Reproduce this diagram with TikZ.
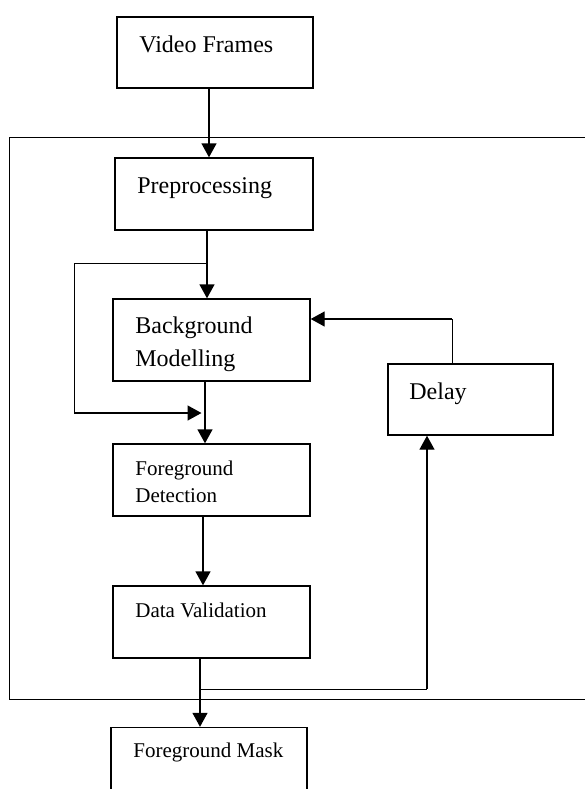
\documentclass[tikz,border=0pt]{standalone}
\usepackage{fontspec}
\setmainfont{Liberation Serif}
\usetikzlibrary{positioning, arrows.meta, calc}

\begin{document}
\begin{tikzpicture}[x=0.5pt, y=-0.5pt,
    block/.style={draw, line width=0.7pt, inner sep=0pt},
    txt/.style={inner sep=0pt, anchor=north west, align=left, font=\fontsize{12}{16.5}\selectfont},
    small/.style={font=\fontsize{10.5}{13.5}\selectfont},
    flow/.style={-{Triangle[length=7pt, width=7.5pt]}, line width=0.7pt},
    wire/.style={line width=0.4pt}]
      \clip (0,0) rectangle (585,789);

      % outer frame, open past the right edge
      \node[draw, wire, inner sep=0pt, anchor=north west, minimum width=295.5pt, minimum height=281pt] (stage) at (9,137) {};

      \node[block, minimum width=98pt, minimum height=35.5pt] (vf) at (215,52.5) {};
      \node[block, minimum width=99pt, minimum height=36pt] (pp) at (214,194) {};
      \node[block, minimum width=98.5pt, minimum height=41pt] (bm) at (211.5,340) {};
      \node[block, minimum width=98.5pt, minimum height=36pt] (fd) at (211.5,480) {};
      \node[block, minimum width=98.5pt, minimum height=36pt] (dv) at (211.5,622) {};
      \node[block, minimum width=98pt, minimum height=36pt] (fm) at (209,763.5) {};
      \node[block, minimum width=82.5pt, minimum height=35.5pt] (delay) at (470.5,399.5) {};

      \node[txt] (vf-t) at (139,35) {Video Frames};
      \node[txt] (pp-t) at (137,177) {Preprocessing};
      \node[txt] (bm-t) at (135,316) {Background\\Modelling};
      \node[txt, small] (fd-t) at (135,461) {Foreground\\Detection};
      \node[txt, small] (dv-t) at (135,603) {Data Validation};
      \node[txt, small] (fm-t) at (133,743) {Foreground Mask};
      \node[txt] (delay-t) at (409,382) {Delay};

      % main chain
      \draw[flow] ([xshift=-3pt]vf.south) -- ([xshift=-3pt]vf.south |- pp.north);
      \draw[flow] ([xshift=-3.5pt]pp.south) -- ([xshift=-3.5pt]pp.south |- bm.north);
      \draw[flow] ([xshift=-3.25pt]bm.south) -- ([xshift=-3.25pt]bm.south |- fd.north);
      \draw[flow] ([xshift=-4.25pt]fd.south) -- ([xshift=-4.25pt]fd.south |- dv.north);
      \draw[flow] ([xshift=-5.75pt]dv.south) -- ([xshift=-5.75pt]dv.south |- fm.north);

      % bypass round the background model
      \coordinate (tap) at ([xshift=-3.5pt]pp.south |- 0,263);
      \coordinate (loop) at (74,413);
      \coordinate (merge) at ([xshift=-5pt]bm.south |- 0,413);
      \draw[wire] (tap) -| (loop);
      \draw[flow] (loop) -- (merge);

      % feedback through the delay
      \coordinate (vtap) at ([xshift=-5.75pt]dv.south |- 0,689);
      \coordinate (vturn) at ([xshift=-21.75pt]delay.south |- 0,689);
      \draw[wire] (vtap) -- (vturn);
      \draw[flow] (vturn) -- ([xshift=-21.75pt]delay.south);
      \coordinate (fb) at ([xshift=-9.25pt]delay.north |- 0,319);
      \draw[wire] ([xshift=-9.25pt]delay.north) -- (fb);
      \draw[flow] (fb) -- (fb -| bm.east);
\end{tikzpicture}
\end{document}
